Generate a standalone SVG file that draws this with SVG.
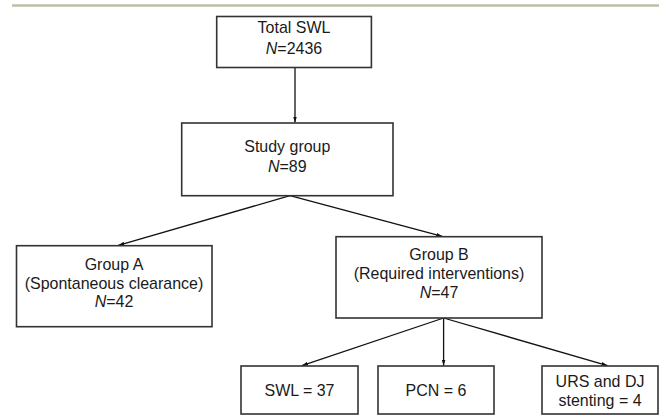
<svg xmlns="http://www.w3.org/2000/svg" width="659" height="417" viewBox="0 0 659 417">
<style>
.box{fill:#fff;stroke:#333;stroke-width:1.6}
.t{font-family:"Liberation Sans",Arial,sans-serif;font-size:17.2px;fill:#1a1a1a;text-anchor:middle}
.c{stroke:#111;stroke-width:1.3;fill:none;marker-end:url(#ah)}
</style>
<defs>
<marker id="ah" viewBox="0 0 10 10" refX="10" refY="5" markerWidth="6" markerHeight="6" markerUnits="userSpaceOnUse" orient="auto">
<path d="M0,1.8 L10,5 L0,8.2 z" fill="#111"/>
</marker>
</defs>
<line x1="12" y1="5.5" x2="659" y2="5.5" stroke="#bcbfa6" stroke-width="2.5"/>
<g id="connectors">
<line class="c" x1="295" y1="67.5" x2="295" y2="122.5"/>
<line class="c" x1="290" y1="195.7" x2="118.3" y2="245.3"/>
<line class="c" x1="290" y1="195.7" x2="442.3" y2="236.3"/>
<line class="c" x1="443.6" y1="318" x2="302" y2="365.6"/>
<line class="c" x1="443.6" y1="318" x2="443.6" y2="365.6"/>
<line class="c" x1="443.6" y1="318" x2="607.5" y2="365.6"/>
</g>
<g id="total">
<rect class="box" x="216.7" y="16.5" width="154.7" height="51"/>
<g transform="translate(294,0) scale(0.93,1)">
<text class="t" x="0" y="33">Total SWL</text>
<text class="t" x="0" y="54"><tspan font-style="italic">N</tspan>=2436</text>
</g>
</g>
<g id="study">
<rect class="box" x="181.7" y="123" width="211.3" height="72.7"/>
<g transform="translate(287.3,0) scale(0.93,1)">
<text class="t" x="0" y="152.5">Study group</text>
<text class="t" x="0" y="172"><tspan font-style="italic">N</tspan>=89</text>
</g>
</g>
<g id="groupA">
<rect class="box" x="16.5" y="245.7" width="195.5" height="81"/>
<g transform="translate(114,0) scale(0.93,1)">
<text class="t" x="0" y="270">Group A</text>
<text class="t" x="0" y="289">(Spontaneous clearance)</text>
<text class="t" x="0" y="307.5"><tspan font-style="italic">N</tspan>=42</text>
</g>
</g>
<g id="groupB">
<rect class="box" x="336" y="236.7" width="206" height="81.3"/>
<g transform="translate(439,0) scale(0.93,1)">
<text class="t" x="0" y="260">Group B</text>
<text class="t" x="0" y="279">(Required interventions)</text>
<text class="t" x="0" y="298.5"><tspan font-style="italic">N</tspan>=47</text>
</g>
</g>
<g id="swl">
<rect class="box" x="241" y="366" width="117" height="48"/>
<g transform="translate(299.5,0) scale(0.93,1)">
<text class="t" x="0" y="396.5">SWL = 37</text>
</g>
</g>
<g id="pcn">
<rect class="box" x="378" y="366" width="116" height="48"/>
<g transform="translate(436,0) scale(0.93,1)">
<text class="t" x="0" y="396.5">PCN = 6</text>
</g>
</g>
<g id="urs">
<rect class="box" x="542" y="366" width="116" height="48"/>
<g transform="translate(600,0) scale(0.93,1)">
<text class="t" x="0" y="387">URS and DJ</text>
<text class="t" x="0" y="406">stenting = 4</text>
</g>
</g>
</svg>
